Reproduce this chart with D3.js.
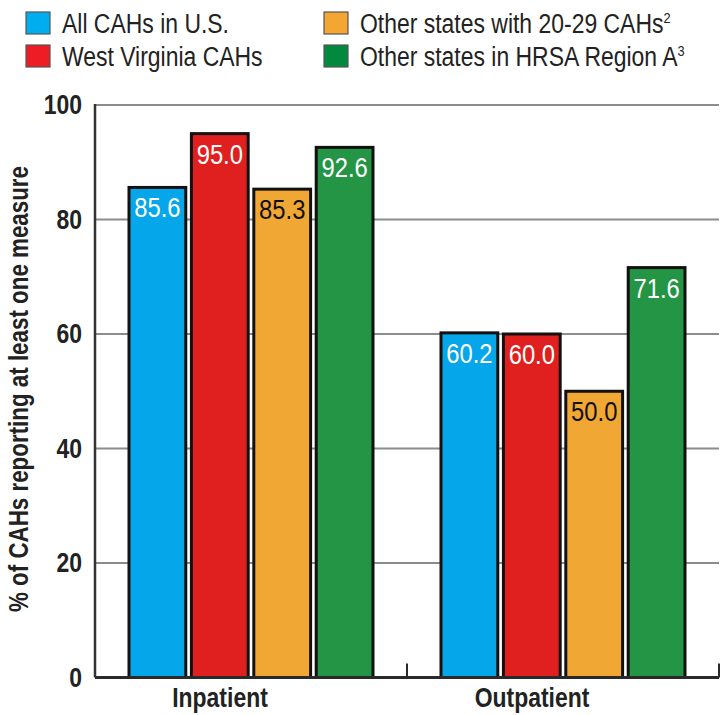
<!DOCTYPE html>
<html>
<head>
<meta charset="utf-8">
<script src="https://cdn.jsdelivr.net/npm/d3@7"></script>
<style>
  body { margin: 0; background: #fff; }
  svg text { font-family: "Liberation Sans", Arial, sans-serif; }
</style>
</head>
<body>
<svg width="726" height="715"></svg>
<script>
const categories = ["Inpatient", "Outpatient"];
const seriesNames = ["All CAHs in U.S.", "West Virginia CAHs", "Other states with 20-29 CAHs", "Other states in HRSA Region A"];
const seriesSup = ["", "", "2", "3"];
const allUS = [85.6, 60.2];
const westVirginia = [95.0, 60.0];
const similarStates = [85.3, 50.0];
const regionA = [92.6, 71.6];
const yTicks = [0, 20, 40, 60, 80, 100];

const colors = ["#05a6ea", "#e01f1f", "#f1a733", "#249545"];
const legendColors = ["#00aeef", "#ee1c25", "#f3a632", "#00893f"];
const textColors = ["#fff", "#fff", "#111", "#fff"];
const seriesValues = [allUS, westVirginia, similarStates, regionA];

const svg = d3.select("svg");
const plotLeft = 95, plotRight = 719, plotTop = 105, plotBottom = 677.5;
const squeeze = 0.85; // the original uses a condensed face

// place a text with a horizontal squeeze
function narrow(sel, fx, fy) {
    return sel.attr("transform", (d, i) => "translate(" + fx(d, i) + "," + fy(d, i) + ") scale(" + squeeze + ",1)");
}

const x0 = d3.scaleBand().domain(categories).range([plotLeft, plotRight]);
const x1 = d3.scaleBand().domain(d3.range(seriesNames.length))
    .range([34, x0.bandwidth() - 34]).paddingInner(0.09);
const y = d3.scaleLinear().domain([0, 100]).range([plotBottom, plotTop]);

// gridlines
svg.append("g")
    .selectAll("line")
    .data(yTicks.filter(d => d > 0))
    .enter().append("line")
        .attr("x1", plotLeft).attr("x2", plotRight)
        .attr("y1", d => y(d)).attr("y2", d => y(d))
        .attr("stroke", "#8c8c8c")
        .attr("stroke-width", 2);

// y axis labels
svg.append("g")
    .selectAll("text")
    .data(yTicks)
    .enter().append("text")
        .call(narrow, () => 82, d => y(d) + 9)
        .attr("text-anchor", "end")
        .style("font-size", "27px")
        .style("font-weight", "bold")
        .attr("fill", "#222")
        .text(d => d);

// bars
const rows = categories.map((c, i) => seriesValues.map((s, j) => ({cat: c, idx: j, value: s[i]})));

const groups = svg.append("g")
    .selectAll("g")
    .data(rows)
    .enter().append("g")
        .attr("transform", (d, i) => "translate(" + x0(categories[i]) + ",0)");

groups.selectAll("rect")
    .data(d => d)
    .enter().append("rect")
        .attr("x", d => x1(d.idx))
        .attr("y", d => y(d.value))
        .attr("width", x1.bandwidth())
        .attr("height", d => plotBottom - y(d.value))
        .attr("fill", d => colors[d.idx])
        .attr("stroke", "#111")
        .attr("stroke-width", 3);

groups.selectAll("text")
    .data(d => d)
    .enter().append("text")
        .call(narrow, d => x1(d.idx) + x1.bandwidth() / 2, d => y(d.value) + 30)
        .attr("text-anchor", "middle")
        .style("font-size", "28px")
        .attr("fill", d => textColors[d.idx])
        .text(d => d.value.toFixed(1));

// axes lines
svg.append("line")
    .attr("x1", plotLeft).attr("x2", plotLeft)
    .attr("y1", plotTop - 1).attr("y2", plotBottom)
    .attr("stroke", "#333").attr("stroke-width", 2.5);

svg.append("line")
    .attr("x1", plotLeft).attr("x2", plotRight)
    .attr("y1", plotBottom).attr("y2", plotBottom)
    .attr("stroke", "#2a2a2a").attr("stroke-width", 3);

svg.append("g")
    .selectAll("line")
    .data([x0("Outpatient"), plotRight])
    .enter().append("line")
        .attr("x1", d => d).attr("x2", d => d)
        .attr("y1", plotBottom).attr("y2", plotBottom - 14)
        .attr("stroke", "#2a2a2a").attr("stroke-width", 2);

// category labels (sit a little left of the band centre in the original)
svg.append("g")
    .selectAll("text")
    .data(categories)
    .enter().append("text")
        .call(narrow, d => x0(d) + x0.bandwidth() / 2 - 31, () => 707)
        .attr("text-anchor", "middle")
        .style("font-size", "27px")
        .style("font-weight", "bold")
        .attr("fill", "#222")
        .text(d => d);

// y title
svg.append("text")
    .attr("transform", "translate(28,389) rotate(-90)")
    .attr("text-anchor", "middle")
    .attr("textLength", 446)
    .attr("lengthAdjust", "spacingAndGlyphs")
    .style("font-size", "27px")
    .style("font-weight", "bold")
    .attr("fill", "#222")
    .text("% of CAHs reporting at least one measure");

// legend
const legend = svg.append("g")
    .selectAll("g")
    .data(seriesNames)
    .enter().append("g")
        .attr("transform", (d, i) => "translate(" + (i < 2 ? 26 : 324) + "," + (12 + (i % 2) * 33) + ")");

legend.append("rect")
    .attr("width", 24).attr("height", 22)
    .attr("fill", (d, i) => legendColors[i])
    .attr("stroke", "#555").attr("stroke-width", 1.2);

const lt = legend.append("text")
    .call(narrow, () => 36, () => 20.5)
    .style("font-size", "27px")
    .attr("fill", "#222")
    .text(d => d);

lt.append("tspan")
    .attr("dy", -10)
    .style("font-size", "15px")
    .text((d, i) => seriesSup[i]);
</script>
</body>
</html>
